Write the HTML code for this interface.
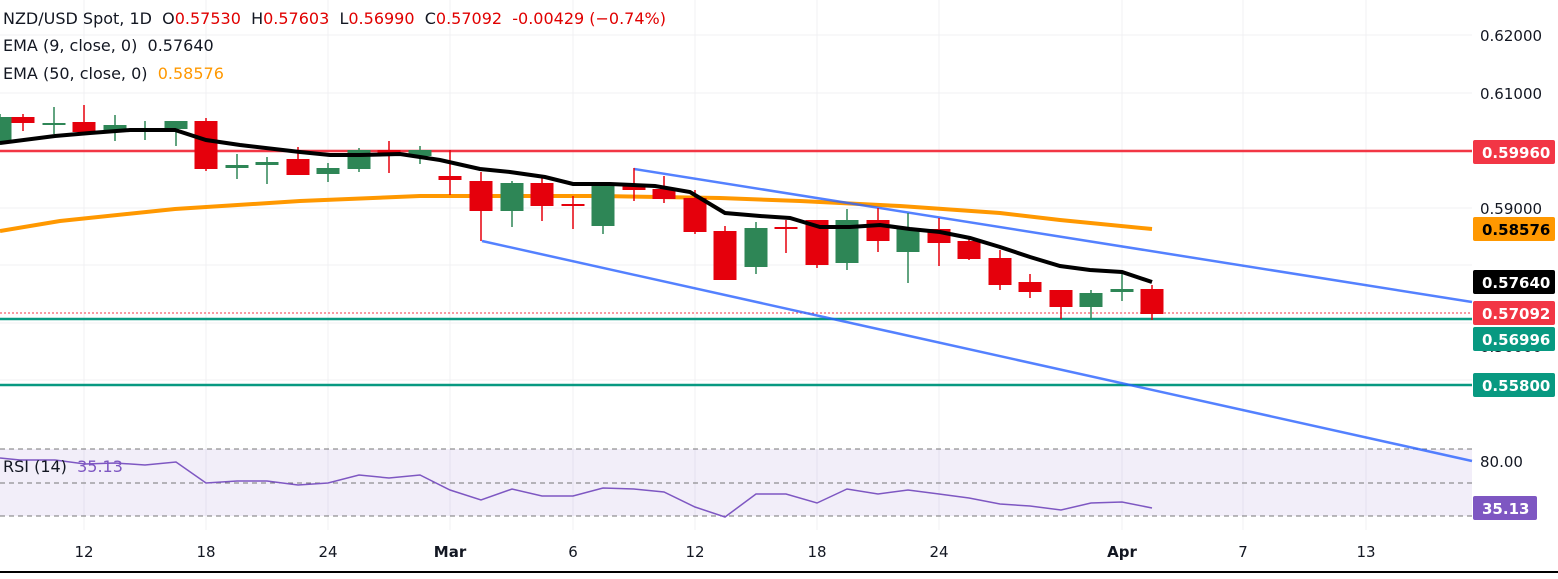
<!DOCTYPE html><html><head><meta charset="utf-8"><style>
body{margin:0;background:#fff;font-family:"Liberation Sans",sans-serif}
svg text{font-family:"DejaVu Sans","Liberation Sans",sans-serif}
.pre{white-space:pre}
</style></head><body>
<svg width="1558" height="574" viewBox="0 0 1558 574" xmlns="http://www.w3.org/2000/svg">
<g stroke="#f0f0f3" stroke-width="1">
<line x1="84" y1="0" x2="84" y2="530"/><line x1="206" y1="0" x2="206" y2="530"/><line x1="328" y1="0" x2="328" y2="530"/><line x1="450" y1="0" x2="450" y2="530"/><line x1="573" y1="0" x2="573" y2="530"/><line x1="695" y1="0" x2="695" y2="530"/><line x1="817" y1="0" x2="817" y2="530"/><line x1="939" y1="0" x2="939" y2="530"/><line x1="1122" y1="0" x2="1122" y2="530"/><line x1="1243" y1="0" x2="1243" y2="530"/><line x1="1366" y1="0" x2="1366" y2="530"/>
<line x1="0" y1="35" x2="1472" y2="35"/><line x1="0" y1="93" x2="1472" y2="93"/><line x1="0" y1="150" x2="1472" y2="150"/><line x1="0" y1="208" x2="1472" y2="208"/><line x1="0" y1="265" x2="1472" y2="265"/><line x1="0" y1="323" x2="1472" y2="323"/><line x1="0" y1="380" x2="1472" y2="380"/>
</g>
<rect x="0" y="449" width="1472" height="67" fill="#7e57c2" fill-opacity="0.1"/>
<g stroke="#777" stroke-dasharray="5,4" stroke-width="1"><line x1="0" y1="449" x2="1472" y2="449"/><line x1="0" y1="483" x2="1472" y2="483"/><line x1="0" y1="516" x2="1472" y2="516"/></g>
<line x1="0" y1="151" x2="1472" y2="151" stroke="#f23645" stroke-width="2.5"/>
<line x1="0" y1="319" x2="1472" y2="319" stroke="#089981" stroke-width="2.5"/>
<line x1="0" y1="385" x2="1472" y2="385" stroke="#089981" stroke-width="2.5"/>
<line x1="0" y1="313" x2="1472" y2="313" stroke="#f23645" stroke-width="1" stroke-dasharray="2,2"/>
<polyline fill="none" stroke="#ff9800" stroke-width="4" points="0,231 60,221 175,209 300,201 420,196 470,196 600,196 720,198 800,201 900,206 1000,213 1060,220 1152,229"/>
<line x1="634" y1="169" x2="1472" y2="302" stroke="#2962ff" stroke-opacity="0.8" stroke-width="2.5"/>
<line x1="482" y1="241" x2="1472" y2="461" stroke="#2962ff" stroke-opacity="0.8" stroke-width="2.5"/>
<g id="c"></g>
<polyline fill="none" stroke="#000" stroke-width="4" points="0,143 55,136 90,133 130,130 175,130 206,140 240,145 300,152 330,155 360,155 400,154 440,160 480,169 510,172 545,177 573,184 610,184 655,186 690,192 725,213 760,216 790,218 820,227 850,227 880,225 910,229 940,232 970,238 1000,247 1030,257 1060,266 1090,270 1122,272 1152,282"/>
<polyline fill="none" stroke="#7e57c2" stroke-width="1.5" points="0,458 20,460 55,460 85,464 115,463 145,465 176,462 206,483 237,481 267,481 298,485 328,483 359,475 389,478 420,475 450,490 481,500 512,489 542,496 573,496 603,488 634,489 664,492 695,507 725,517 756,494 786,494 817,503 847,489 878,494 908,490 939,494 969,498 1000,504 1030,506 1061,510 1091,503 1122,502 1152,508"/>
<g font-size="15" fill="#131722">
<text x="1480" y="41">0.62000</text><text x="1480" y="99">0.61000</text><text x="1480" y="214">0.59000</text><text x="1480" y="352">0.56000</text><text x="1480" y="467">80.00</text>
</g>
<g font-size="15" font-weight="bold" fill="#fff">
<rect x="1473" y="140" width="82" height="24" rx="2" fill="#f23645"/><text x="1482" y="158">0.59960</text>
<rect x="1473" y="217" width="82" height="24" rx="2" fill="#ff9800"/><text x="1482" y="235" fill="#000">0.58576</text>
<rect x="1473" y="270" width="82" height="24" rx="2" fill="#000"/><text x="1482" y="288">0.57640</text>
<rect x="1473" y="301" width="82" height="24" rx="2" fill="#f23645"/><text x="1482" y="319">0.57092</text>
<rect x="1473" y="327" width="82" height="24" rx="2" fill="#089981"/><text x="1482" y="345">0.56996</text>
<rect x="1473" y="373" width="82" height="24" rx="2" fill="#089981"/><text x="1482" y="391">0.55800</text>
<rect x="1473" y="496" width="64" height="24" rx="2" fill="#7e57c2"/><text x="1482" y="514">35.13</text>
</g>
<g font-size="15" fill="#131722" text-anchor="middle">
<text x="84" y="557">12</text><text x="206" y="557">18</text><text x="328" y="557">24</text><text x="450" y="557" font-weight="bold">Mar</text><text x="573" y="557">6</text><text x="695" y="557">12</text><text x="817" y="557">18</text><text x="939" y="557">24</text><text x="1122" y="557" font-weight="bold">Apr</text><text x="1243" y="557">7</text><text x="1366" y="557">13</text>
</g>
<line x1="0" y1="572" x2="1558" y2="572" stroke="#000" stroke-width="2"/>
<g font-size="16" fill="#131722" class="pre">
<text x="3" y="24" class="pre">NZD/USD Spot, 1D  O<tspan fill="#e00000">0.57530</tspan>  H<tspan fill="#e00000">0.57603</tspan>  L<tspan fill="#e00000">0.56990</tspan>  C<tspan fill="#e00000">0.57092</tspan>  <tspan fill="#e00000">-0.00429 (−0.74%)</tspan></text>
<text x="3" y="51" class="pre">EMA (9, close, 0)  0.57640</text>
<text x="3" y="79" class="pre">EMA (50, close, 0)  <tspan fill="#ff9800">0.58576</tspan></text>
<text x="3" y="472" class="pre">RSI (14)  <tspan fill="#7e57c2">35.13</tspan></text>
</g>
</svg>
<script>
var d=[[0,'g',117,141,114,145],[23,'r',117,123,114,131],[54,'g',123,125,107,134],[84,'r',122,132,105,135],[115,'g',125,132,115,141],[145,'g',129,132,121,140],[176,'g',121,129,121,146],[206,'r',121,169,118,171],[237,'g',165,168,154,179],[267,'g',162,165,157,184],[298,'r',159,175,147,175],[328,'g',168,174,163,182],[359,'g',150,169,148,172],[389,'r',150,155,141,173],[420,'g',150,156,146,164],[450,'r',176,180,150,195],[481,'r',181,211,172,241],[512,'g',183,211,181,227],[542,'r',183,206,176,221],[573,'r',204,206,196,229],[603,'g',186,226,186,234],[634,'r',186,190,168,201],[664,'r',189,199,176,203],[695,'r',198,232,190,234],[725,'r',231,280,226,280],[756,'g',228,267,222,274],[786,'r',227,229,220,253],[817,'r',220,265,220,268],[847,'g',220,263,209,270],[878,'r',220,241,208,252],[908,'g',229,252,213,283],[939,'r',229,243,218,266],[969,'r',241,259,236,260],[1000,'r',258,285,250,290],[1030,'r',282,292,274,298],[1061,'r',290,307,290,319],[1091,'g',293,307,290,319],[1122,'g',289,292,274,301],[1152,'r',289,314,285,320]];
var g=document.getElementById('c'),s='';
d.forEach(function(c){var col=c[1]=='g'?'#2e8656':'#e5000c';var h=Math.max(2,c[3]-c[2]);
s+='<line x1="'+c[0]+'" y1="'+c[4]+'" x2="'+c[0]+'" y2="'+c[5]+'" stroke="'+col+'" stroke-width="1.5"/>';
s+='<rect x="'+(c[0]-11.5)+'" y="'+c[2]+'" width="23" height="'+h+'" fill="'+col+'"/>';});
g.innerHTML=s;
</script>
</body></html>
